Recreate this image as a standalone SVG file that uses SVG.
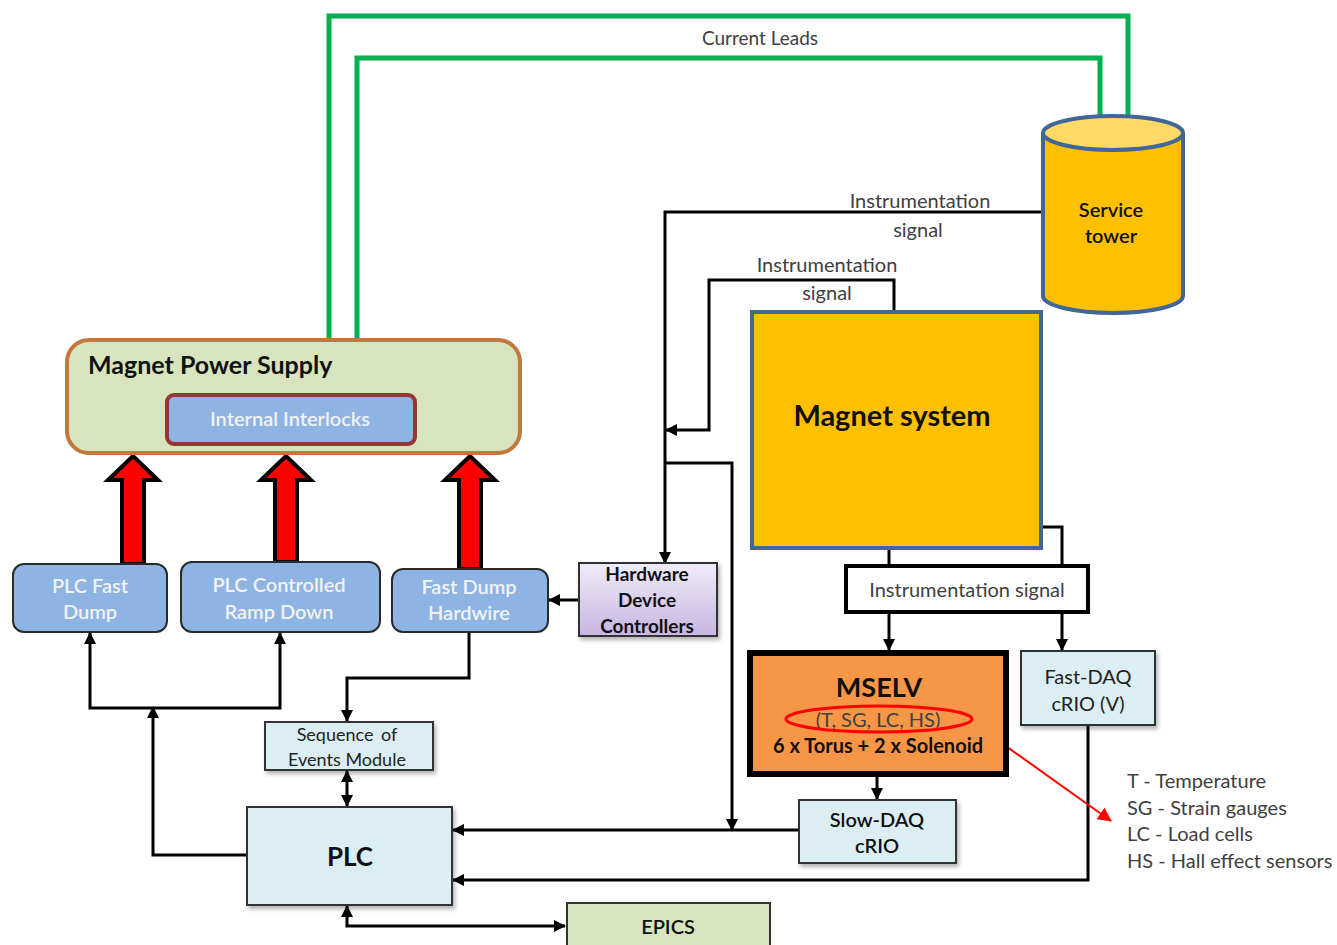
<svg xmlns="http://www.w3.org/2000/svg" width="1337" height="945" viewBox="0 0 1337 945">
<defs>
<style>
text{font-family:Lato,"Open Sans","Noto Sans",sans-serif;text-anchor:middle;dominant-baseline:central}
.lbl{font-size:20px;fill:#404040}
.w{font-size:20px;fill:#F2F2F2;font-weight:600}
.b{font-size:20px;fill:#111;font-weight:700}
.big{font-size:26px;fill:#111;font-weight:700}
.line{fill:none;stroke:#000;stroke-width:3}
.green{fill:none;stroke:#00B050;stroke-width:5}
.lb{fill:#DAEEF3;stroke:#333;stroke-width:2}
.blue{fill:#8EB4E3;stroke:#2A2A2A;stroke-width:2}
.fat{fill:#FF0000;stroke:#000;stroke-width:4;stroke-linejoin:miter}
</style>
<marker id="ah" viewBox="0 0 12 12" markerWidth="12" markerHeight="12" refX="11" refY="6" orient="auto-start-reverse" markerUnits="userSpaceOnUse"><path d="M0,0 L12,6 L0,12 z" fill="#000"/></marker>
<marker id="rh" viewBox="0 0 14 14" markerWidth="14" markerHeight="14" refX="13" refY="7" orient="auto" markerUnits="userSpaceOnUse"><path d="M0,0 L14,7 L0,14 z" fill="#FF0000"/></marker>
<linearGradient id="hdc" x1="0" y1="0" x2="0" y2="1"><stop offset="0" stop-color="#F0EBF8"/><stop offset="1" stop-color="#C7B6E2"/></linearGradient>
<filter id="sh" x="-5%" y="-5%" width="115%" height="120%"><feDropShadow dx="2" dy="3" stdDeviation="2" flood-color="#000" flood-opacity="0.3"/></filter>
</defs>
<rect width="1337" height="945" fill="#fff"/>

<g id="connectors">
<polyline class="green" points="329,340 329,16 1128,16 1128,116"/>
<polyline class="green" points="357,340 357,58 1100,58 1100,118"/>
<text class="lbl" x="760" y="37" style="font-size:19px">Current Leads</text>

<polyline class="line" points="1043,212 665,212 665,563" marker-end="url(#ah)"/>
<text class="lbl" x="920" y="200">Instrumentation</text>
<text class="lbl" x="918" y="229">signal</text>
<polyline class="line" points="894,312 894,280 709,280 709,430 666,430" marker-end="url(#ah)"/>
<text class="lbl" x="827" y="264">Instrumentation</text>
<text class="lbl" x="827" y="292">signal</text>
<polyline class="line" points="665,463 732,463 732,830" marker-end="url(#ah)"/>
<line class="line" x1="798" y1="830" x2="453" y2="830" marker-end="url(#ah)"/>
<polyline class="line" points="1088,725 1088,880 453,880" marker-end="url(#ah)"/>

<line class="line" x1="889" y1="548" x2="889" y2="566"/>
<polyline class="line" points="1041,527 1062,527 1062,566"/>
<line class="line" x1="889" y1="612" x2="889" y2="650" marker-end="url(#ah)"/>
<line class="line" x1="1062" y1="612" x2="1062" y2="650" marker-end="url(#ah)"/>
<line class="line" x1="877" y1="776" x2="877" y2="799" marker-end="url(#ah)"/>
<line x1="975" y1="724" x2="1111" y2="821" stroke="#FF0000" stroke-width="2" marker-end="url(#rh)"/>

<line class="line" x1="579" y1="600" x2="549" y2="600" marker-end="url(#ah)"/>
<polyline class="line" points="469,632 469,678 347,678 347,721" marker-end="url(#ah)"/>
<line class="line" x1="347" y1="771" x2="347" y2="806" marker-start="url(#ah)" marker-end="url(#ah)"/>
<polyline class="line" points="347,906 347,926 565,926" marker-start="url(#ah)" marker-end="url(#ah)"/>
<polyline class="line" points="247,855 153,855 153,707" marker-end="url(#ah)"/>
<polyline class="line" points="90,633 90,708 280,708 280,633" marker-start="url(#ah)" marker-end="url(#ah)"/>

<path class="fat" d="M122,564 L122,480 L108,480 L133,456 L158,480 L144,480 L144,564 Z"/>
<path class="fat" d="M275,562 L275,480 L261,480 L286,456 L311,480 L297,480 L297,562 Z"/>
<path class="fat" d="M459,569 L459,480 L445,480 L470,456 L495,480 L481,480 L481,569 Z"/>
</g>

<g id="service-tower">
<path d="M1043,133 L1043,296 A70,17 0 0 0 1183,296 L1183,133" fill="#FFC000" stroke="#41679A" stroke-width="4"/>
<ellipse cx="1113" cy="133" rx="70" ry="17" fill="#FFD966" stroke="#41679A" stroke-width="4"/>
<text class="b" x="1111" y="209" style="font-weight:600">Service</text>
<text class="b" x="1111" y="235" style="font-weight:600">tower</text>
</g>

<g id="magnet-system">
<rect x="752" y="312" width="289" height="236" fill="#FFC000" stroke="#41679A" stroke-width="4"/>
<text class="big" x="892" y="414" style="font-size:29px">Magnet system</text>
</g>

<g id="instr-box">
<rect x="846" y="566" width="242" height="46" fill="#fff" stroke="#000" stroke-width="4"/>
<text class="lbl" x="967" y="589">Instrumentation signal</text>
</g>

<g id="mselv">
<rect x="750" y="653" width="256" height="121" fill="#F79646" stroke="#000" stroke-width="6"/>
<text class="big" x="879" y="686" style="font-size:27px">MSELV</text>
<text class="lbl" x="878" y="719">(T, SG, LC, HS)</text>
<ellipse cx="879" cy="719" rx="93" ry="13" fill="none" stroke="#FF0000" stroke-width="3"/>
<text class="b" x="878" y="745">6 x Torus + 2 x Solenoid</text>
</g>

<g id="fast-daq">
<rect class="lb" x="1021" y="651" width="134" height="74" filter="url(#sh)"/>
<text class="lbl" x="1088" y="676" style="fill:#222">Fast-DAQ</text>
<text class="lbl" x="1088" y="703" style="fill:#222">cRIO (V)</text>
</g>

<g id="slow-daq">
<rect class="lb" x="799" y="800" width="157" height="63" filter="url(#sh)"/>
<text class="b" x="877" y="819" style="font-weight:600">Slow-DAQ</text>
<text class="b" x="877" y="845" style="font-weight:600">cRIO</text>
</g>

<g id="legend">
<text class="lbl" x="1127" y="780" style="text-anchor:start">T - Temperature</text>
<text class="lbl" x="1127" y="807" style="text-anchor:start">SG - Strain gauges</text>
<text class="lbl" x="1127" y="833" style="text-anchor:start">LC - Load cells</text>
<text class="lbl" x="1127" y="860" style="text-anchor:start">HS - Hall effect sensors</text>
</g>

<g id="plc">
<rect class="lb" x="247" y="807" width="205" height="98" filter="url(#sh)"/>
<text class="big" x="350" y="856">PLC</text>
</g>

<g id="epics">
<rect x="567" y="903" width="203" height="50" fill="#D7E4BD" stroke="#333" stroke-width="2"/>
<text class="b" x="668" y="926" style="font-weight:600">EPICS</text>
</g>

<g id="soe">
<rect class="lb" x="265" y="722" width="168" height="48" filter="url(#sh)"/>
<text class="lbl" x="347" y="734" style="fill:#222;font-size:18px;word-spacing:3px">Sequence of</text>
<text class="lbl" x="347" y="759" style="fill:#222;font-size:18px">Events Module</text>
</g>

<g id="mps">
<rect x="67" y="340" width="453" height="113" rx="22" fill="#D7E4BD" stroke="#C0783C" stroke-width="4"/>
<text x="88" y="364" style="text-anchor:start;font-size:25px;font-weight:700;fill:#111">Magnet Power Supply</text>
<rect x="167" y="395" width="248" height="49" rx="7" fill="#8EB4E3" stroke="#943634" stroke-width="4"/>
<text class="w" x="290" y="418">Internal Interlocks</text>
</g>

<g id="plc-fast-dump">
<rect class="blue" x="13" y="564" width="154" height="68" rx="11"/>
<text class="w" x="90" y="585">PLC Fast</text>
<text class="w" x="90" y="611">Dump</text>
</g>

<g id="plc-ramp-down">
<rect class="blue" x="181" y="562" width="199" height="70" rx="11"/>
<text class="w" x="279" y="584">PLC Controlled</text>
<text class="w" x="279" y="611">Ramp Down</text>
</g>

<g id="fast-dump-hardwire">
<rect class="blue" x="392" y="569" width="156" height="63" rx="11"/>
<text class="w" x="469" y="586">Fast Dump</text>
<text class="w" x="469" y="612">Hardwire</text>
</g>

<g id="hdc">
<rect x="579" y="563" width="138" height="73" fill="url(#hdc)" stroke="#333" stroke-width="2" filter="url(#sh)"/>
<text class="b" x="647" y="573" style="font-size:19px">Hardware</text>
<text class="b" x="647" y="599" style="font-size:19px">Device</text>
<text class="b" x="647" y="625" style="font-size:19px">Controllers</text>
</g>
</svg>
